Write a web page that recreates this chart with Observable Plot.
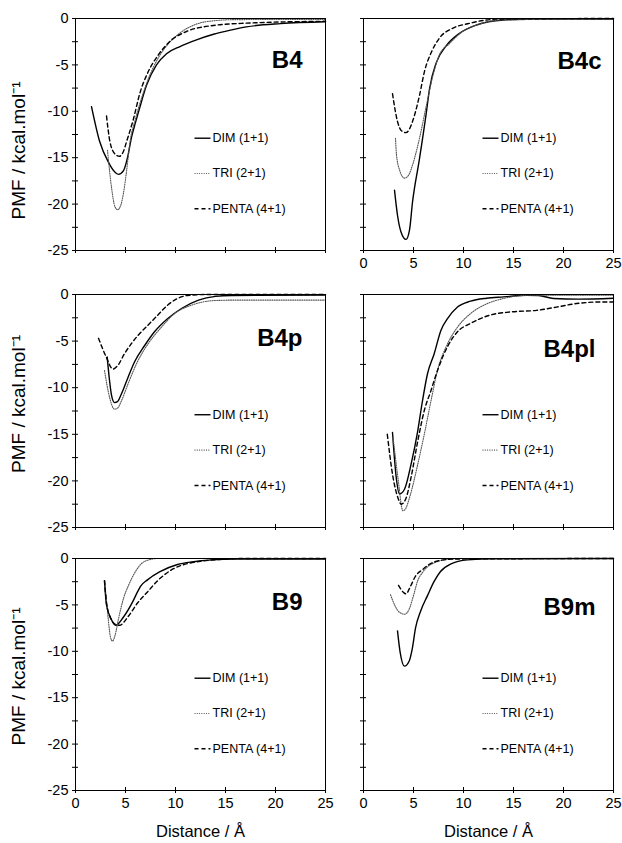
<!DOCTYPE html>
<html><head><meta charset="utf-8">
<script src="https://cdn.jsdelivr.net/npm/d3@7"></script>
<script src="https://cdn.jsdelivr.net/npm/@observablehq/plot@0.6"></script>
<style>
body{margin:0;background:#fff;}
#chart{position:relative;width:622px;height:843px;background:#fff;overflow:hidden;}
#chart > div{position:absolute;}
</style></head><body><div id="chart"></div>
<script>
// ---------- data ----------
const panelNames = ["B4", "B4c", "B4p", "B4pl", "B9", "B9m"];
const seriesNames = ["DIM (1+1)", "TRI (2+1)", "PENTA (4+1)"];
const xTicks = [0, 5, 10, 15, 20, 25];
const yTicks = [0, -5, -10, -15, -20, -25];
const yMinorTicks = [0, -2.5, -5, -7.5, -10, -12.5, -15, -17.5, -20, -22.5, -25];
const xLabel = "Distance / Å";
const yLabel = "PMF / kcal.mol⁻¹";

// [distance, PMF]
const B4_DIM = [[1.6,-9.5],[2.4,-13.2],[3.3,-15.5],[3.9,-16.5],[4.3,-16.8],[4.8,-16.4],[5.2,-15.0],[5.6,-12.8],[6.0,-11.2],[6.4,-9.7],[7.1,-7.2],[8.1,-5.0],[9.1,-3.8],[10.5,-3.0],[12.1,-2.3],[13.8,-1.7],[15.5,-1.25],[17.1,-0.9],[20.5,-0.55],[25,-0.35]];
const B4_TRI = [[3.2,-14.2],[3.6,-18.2],[3.95,-20.3],[4.2,-20.6],[4.5,-20.2],[4.8,-18.8],[5.1,-16.5],[5.45,-13.3],[6.0,-10.8],[6.6,-8.6],[7.4,-6.2],[8.3,-4.2],[9.3,-2.7],[10.4,-1.6],[12.1,-0.6],[13.8,-0.25],[16,-0.12],[25,-0.1]];
const B4_PENTA = [[3.1,-10.5],[3.45,-13.3],[3.95,-14.6],[4.4,-14.85],[4.8,-14.3],[5.1,-13.3],[5.8,-10.8],[6.45,-8.0],[7.2,-5.9],[8.3,-3.9],[9.4,-2.5],[11.1,-1.4],[13.8,-0.75],[17.1,-0.5],[25,-0.3]];

const B4c_DIM = [[3.1,-18.5],[3.4,-21.2],[3.75,-23.0],[4.25,-23.8],[4.6,-22.8],[4.9,-19.8],[5.6,-15.1],[6.3,-10.0],[6.6,-7.6],[7.3,-4.7],[8.3,-2.9],[9.6,-1.6],[11.3,-0.7],[14,-0.16],[17,-0.05],[25,-0.05]];
const B4c_TRI = [[3.2,-12.9],[3.3,-14.7],[3.6,-16.3],[4.1,-17.2],[4.5,-16.9],[4.9,-15.8],[5.6,-12.9],[6.3,-9.3],[6.8,-6.8],[7.6,-3.9],[8.6,-2.7],[9.9,-1.4],[11.6,-0.6],[14,-0.15],[25,-0.05]];
const B4c_PENTA = [[2.9,-8.1],[3.4,-11.1],[3.8,-12.1],[4.25,-12.3],[4.6,-11.9],[4.9,-11.1],[5.6,-8.3],[6.1,-5.7],[6.8,-3.6],[7.6,-2.1],[8.9,-1.06],[10.6,-0.52],[12.3,-0.16],[14,-0.05],[25,0]];

const B4p_DIM = [[3.17,-6.7],[3.4,-9.2],[3.6,-10.8],[3.9,-11.6],[4.2,-11.5],[4.6,-10.65],[5.25,-8.9],[5.9,-7.25],[6.9,-5.5],[7.9,-4.0],[9.2,-2.6],[10.6,-1.5],[12.3,-0.6],[14,-0.2],[15.6,-0.1],[25,-0.05]];
const B4p_TRI = [[2.9,-8.15],[3.4,-11.0],[3.9,-12.3],[4.2,-12.2],[4.6,-11.4],[5.25,-9.6],[6.25,-7.1],[7.25,-5.3],[8.6,-3.5],[9.9,-2.05],[11.6,-1.15],[13.9,-0.65],[16,-0.6],[25,-0.6]];
const B4p_PENTA = [[2.3,-4.7],[3.07,-6.7],[3.74,-8.0],[4.24,-7.6],[4.9,-6.35],[5.57,-5.3],[6.24,-4.4],[7.24,-3.3],[8.24,-2.2],[9.2,-1.15],[10.2,-0.43],[11.2,-0.1],[13,0],[25,0]];

const B4pl_DIM = [[2.9,-14.8],[3.27,-19.6],[3.6,-21.4],[4.1,-20.9],[4.76,-18.2],[5.43,-14.6],[5.9,-11.4],[6.4,-8.5],[7.07,-6.35],[7.74,-3.85],[8.4,-2.6],[9.4,-1.35],[10.7,-0.72],[12.3,-0.4],[14,-0.26],[16.3,-0.08],[17.5,-0.1],[19,-0.43],[21.5,-0.5],[25,-0.4]];
const B4pl_TRI = [[2.95,-15.3],[3.44,-19.6],[3.94,-23.2],[4.2,-23.0],[4.6,-21.8],[5.43,-18.2],[6.08,-15.0],[6.75,-11.4],[7.4,-8.15],[8.4,-5.3],[9.4,-3.5],[10.7,-2.05],[12.4,-0.97],[14,-0.43],[16.7,-0.08],[25,-0.08]];
const B4pl_PENTA = [[2.38,-15.0],[2.95,-19.6],[3.44,-21.8],[3.77,-22.5],[4.27,-21.8],[4.76,-19.6],[5.43,-15.7],[6.08,-12.45],[6.75,-10.3],[7.4,-8.15],[8.4,-5.6],[9.4,-4.0],[10.7,-3.1],[12.7,-2.2],[14.7,-1.87],[17.3,-1.7],[19.3,-1.35],[21.3,-0.97],[23.9,-0.8],[25,-0.8]];

const B9_DIM = [[2.9,-2.4],[3.1,-5.0],[3.6,-6.6],[4.0,-7.2],[4.8,-6.3],[5.7,-4.7],[6.2,-3.6],[6.5,-3.0],[7.2,-2.3],[8.4,-1.45],[10.2,-0.65],[11.8,-0.35],[13.6,-0.15],[16,-0.05],[25,-0.05]];
const B9_TRI = [[2.9,-2.4],[3.1,-4.5],[3.3,-6.8],[3.5,-8.5],[3.7,-8.9],[3.95,-8.3],[4.3,-6.5],[4.8,-4.3],[5.3,-2.9],[6.0,-1.4],[6.6,-0.55],[7.5,-0.1],[8.3,0],[25,0]];
const B9_PENTA = [[2.9,-2.4],[3.1,-4.8],[3.5,-6.4],[4.0,-7.1],[4.4,-7.2],[5.3,-6.2],[6.2,-4.8],[7.2,-3.6],[8.3,-2.3],[9.8,-1.1],[11.2,-0.55],[12.5,-0.3],[14.3,-0.1],[17,0],[25,0]];

const B9m_DIM = [[3.4,-7.8],[3.65,-10.0],[4.1,-11.6],[4.55,-11.1],[4.88,-9.7],[5.2,-7.5],[5.7,-5.7],[6.4,-4.0],[7.05,-2.5],[7.7,-1.4],[8.7,-0.6],[10.4,-0.15],[13,-0.03],[25,0]];
const B9m_TRI = [[2.7,-3.9],[3.2,-5.2],[3.6,-5.8],[4.1,-6.0],[4.55,-5.5],[5.05,-3.8],[5.4,-2.45],[5.9,-1.5],[6.4,-0.9],[7.05,-0.47],[8.4,-0.1],[10,0],[25,0]];
const B9m_PENTA = [[3.5,-2.9],[4.05,-3.7],[4.25,-3.8],[4.7,-3.0],[5.2,-1.9],[5.9,-1.2],[6.55,-0.65],[7.7,-0.2],[9.4,-0.05],[25,0]];

const panelSeries = {
  B4: [B4_DIM, B4_TRI, B4_PENTA],
  B4c: [B4c_DIM, B4c_TRI, B4c_PENTA],
  B4p: [B4p_DIM, B4p_TRI, B4p_PENTA],
  B4pl: [B4pl_DIM, B4pl_TRI, B4pl_PENTA],
  B9: [B9_DIM, B9_TRI, B9_PENTA],
  B9m: [B9m_DIM, B9m_TRI, B9m_PENTA]
};

// ---------- layout & styles ----------
const FONT = "'Liberation Sans', Arial, Helvetica, sans-serif";
const seriesStyle = [
  {stroke: "#000", strokeWidth: 1.4, strokeDasharray: null},
  {stroke: "#555", strokeWidth: 1.1, strokeDasharray: "1,1.3"},
  {stroke: "#000", strokeWidth: 1.4, strokeDasharray: "4,3"}
];
const colLeft = [0, 335], colWidth = [335, 287], colMarginLeft = [75, 28];
const rowTop = [0, 276, 540], rowPlotH = [232, 233, 232], rowMarginBottom = [26, 13, 53];
const yLabelShift = [16, -7, 2];
const panelLabelOffset = {B4: [-23, 32.5], B4c: [-12, 33], B4p: [-23, 34.5], B4pl: [-18, 45], B9: [-23, 34.5], B9m: [-18, 39]};
const legendRowY = [-12.9, -16.7, -20.5];
const legendX = [11.9, 13.5, 13.7];

const chart = document.getElementById("chart");

panelNames.forEach((name, i) => {
  const col = i % 2, row = Math.floor(i / 2);
  const W = colWidth[col], ml = colMarginLeft[col];
  const mr = W - ml - 250;
  const mt = 18, mb = rowMarginBottom[row];
  const H = mt + rowPlotH[row] + mb;
  const showXLabels = name === "B4c" || row === 2;

  const marks = [];
  panelSeries[name].forEach((pts, k) => {
    const rows = pts.map(([x, y]) => ({x, y}));
    marks.push(Plot.line(rows, {x: "x", y: "y", curve: "monotone-x", ...seriesStyle[k]}));
  });
  // legend
  const legend = seriesNames.map((s, k) => ({s, k, y: legendRowY[k]}));
  legend.forEach(d => {
    marks.push(Plot.link([d], {x1: () => legendX[0], x2: () => legendX[1], y1: "y", y2: "y", ...seriesStyle[d.k]}));
  });
  marks.push(Plot.text(legend, {
    x: () => legendX[2], y: "y", text: "s", textAnchor: "start", fontSize: 12.5,
    fontWeight: d => (name === "B9" && d.k === 2) ? "bold" : "normal", fill: "#000"
  }));
  // panel title
  marks.push(Plot.text([name], {
    frameAnchor: "top-right", text: d => d, textAnchor: "end",
    dx: panelLabelOffset[name][0], dy: panelLabelOffset[name][1],
    fontSize: 24, fontWeight: "bold", fill: "#000"
  }));
  // frame and ticks
  marks.push(Plot.frame({stroke: "#000", strokeWidth: 1}));
  marks.push(Plot.axisX(xTicks, {tickSize: 6, dy: -3, tickFormat: () => "", label: null}));
  marks.push(Plot.axisY(yMinorTicks, {tickSize: 6, dx: 3, tickFormat: () => "", label: null}));
  if (showXLabels) {
    marks.push(Plot.axisX(xTicks, {tickSize: 0, tickPadding: 7, tickFormat: d => String(d), fontSize: 14.5, label: null}));
  }
  if (col === 0) {
    marks.push(Plot.axisY(yTicks, {tickSize: 0, tickPadding: 7, tickFormat: d => String(d), fontSize: 14.5, label: null}));
    marks.push(Plot.text([yLabel], {frameAnchor: "left", text: d => d, rotate: -90, textAnchor: "middle", lineAnchor: "middle", dx: -57, dy: yLabelShift[row], fontSize: 19, fill: "#000"}));
  }
  if (row === 2) {
    marks.push(Plot.text([xLabel], {frameAnchor: "bottom", text: d => d, dy: 46, fontSize: 16.5, fill: "#000"}));
  }

  const svg = Plot.plot({
    width: W, height: H,
    marginLeft: ml, marginRight: mr, marginTop: mt, marginBottom: mb,
    x: {domain: [0, 25]},
    y: {domain: [-25, 0]},
    style: {fontFamily: FONT, background: "transparent", color: "#000", overflow: "visible"},
    marks
  });
  const holder = document.createElement("div");
  holder.style.left = colLeft[col] + "px";
  holder.style.top = rowTop[row] + "px";
  holder.appendChild(svg);
  chart.appendChild(holder);
});
</script>
</body></html>
